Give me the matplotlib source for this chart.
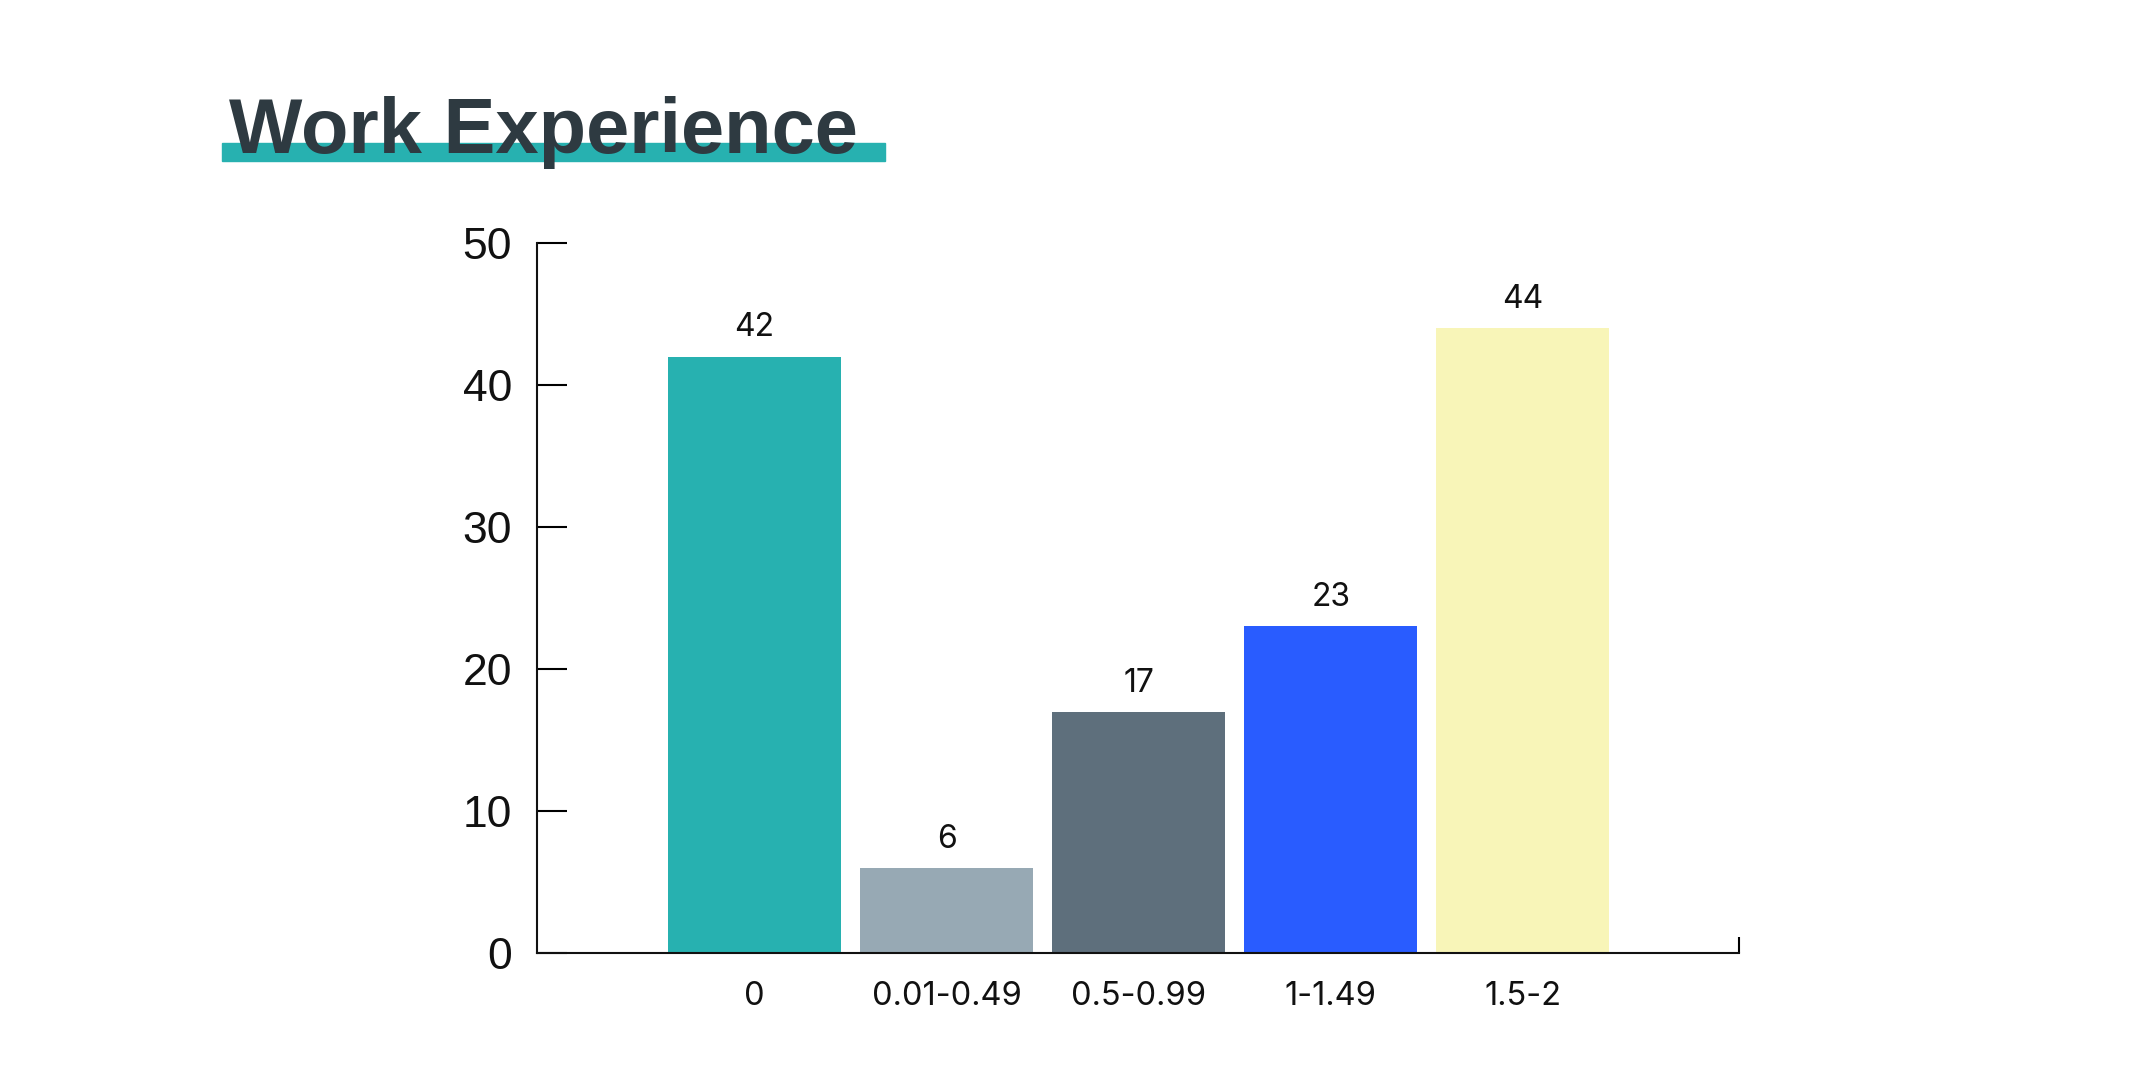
import matplotlib
matplotlib.use("Agg")
import matplotlib.pyplot as plt
from matplotlib.patches import Rectangle

# data
categories = ["0", "0.01-0.49", "0.5-0.99", "1-1.49", "1.5-2"]
counts = [42, 6, 17, 23, 44]
bar_colors = ["#27b1b0", "#97a9b4", "#5e6f7c", "#295cff", "#f8f5b8"]
y_ticks = [0, 10, 20, 30, 40, 50]

plt.rcParams["font.family"] = ["Inter", "DejaVu Sans"]

fig = plt.figure(figsize=(21.34, 10.84), dpi=100)
ax = fig.add_axes([0.2516, 0.1208, 0.5633, 0.6550])

x = list(range(len(categories)))
ax.bar(x, counts, width=0.9, color=bar_colors, zorder=2)

for xi, v in zip(x, counts):
    ax.annotate(str(v), (xi, v), xytext=(0, 14.5), textcoords="offset points",
                ha="center", va="baseline", fontsize=23, color="#111111")

ax.set_xlim(-1.133, 5.125)
ax.set_ylim(0, 50)
ax.set_yticks(y_ticks)
ax.set_xticks(x)
ax.set_xticklabels(categories, fontsize=23.5, color="#111111")
ax.tick_params(axis="x", which="major", length=0, pad=20)
ax.tick_params(axis="y", direction="in", length=21.6, width=1.5, pad=18,
               labelsize=32, labelcolor="#111111")
for lbl in ax.get_yticklabels():
    lbl.set_family(["Liberation Sans", "DejaVu Sans"])

# small upward tick at the right end of the x axis
ax.set_xticks([5.125], minor=True)
ax.tick_params(axis="x", which="minor", direction="in", length=11.5, width=1.5)

for side in ["top", "right"]:
    ax.spines[side].set_visible(False)
for side in ["left", "bottom"]:
    ax.spines[side].set_linewidth(1.5)
    ax.spines[side].set_color("#111111")

# title with teal underline band
fig.patches.append(Rectangle((0.104, 0.8515), 0.3107, 0.0166,
                             transform=fig.transFigure, color="#27b1b0",
                             zorder=1))
fig.text(0.1073, 0.8589, "Work Experience", fontsize=56, fontweight="bold",
         family=["Liberation Sans", "DejaVu Sans"], color="#2e3a41",
         va="baseline", ha="left", zorder=3)

fig.savefig("out.png", dpi=100)
